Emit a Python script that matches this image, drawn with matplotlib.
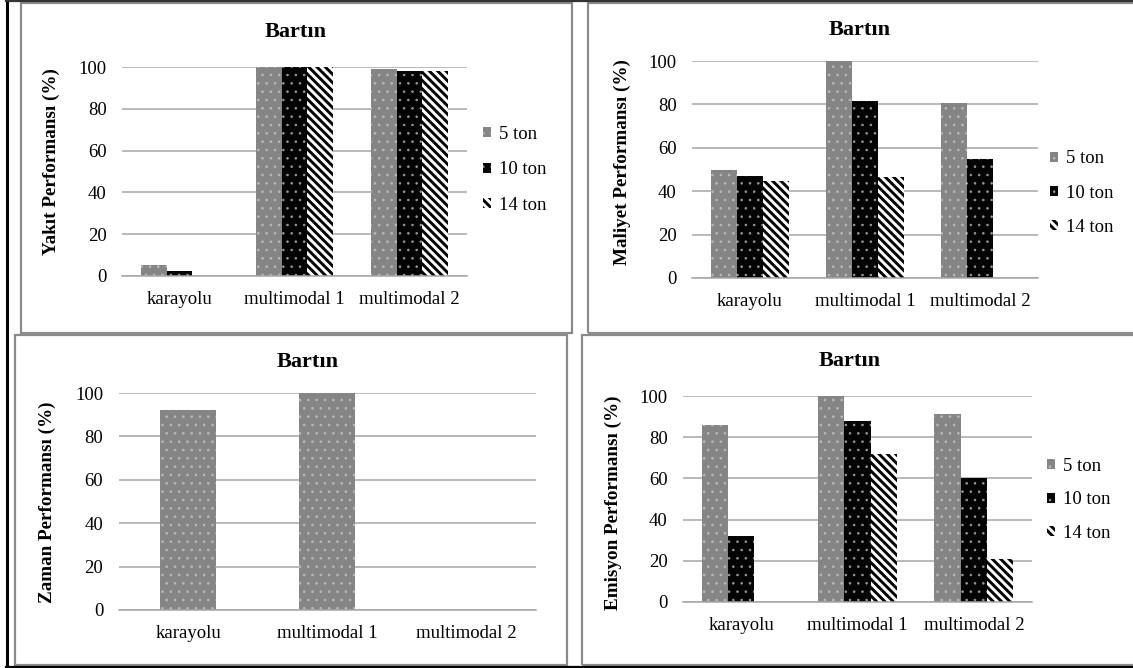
import matplotlib.pyplot as plt
from matplotlib.lines import Line2D
from matplotlib.patches import Rectangle

plt.rcParams['font.family'] = ['Liberation Serif', 'DejaVu Serif']

W, H = 1133, 668

categories = ['karayolu', 'multimodal 1', 'multimodal 2']
series = ['5 ton', '10 ton', '14 ton']

# değerler: her satır bir seri (5 ton, 10 ton, 14 ton)
yakit = [[5.3, 100, 98.9],
         [2.4, 100, 98.2],
         [0, 100, 98.2]]
maliyet = [[50.0, 100, 80.6],
           [47.1, 81.5, 54.8],
           [44.8, 46.5, 0]]
zaman = [[92.0, 100, 0]]
emisyon = [[85.9, 100, 91.4],
           [32.0, 87.7, 60.4],
           [0, 71.9, 21.0]]

# desenler (5 ton: gri noktalı, 10 ton: siyah noktalı, 14 ton: çapraz çizgili)
styles = [
    dict(facecolor='#858585', edgecolor='#b8b8b8', hatch='..', hlw=0.7),
    dict(facecolor='#030303', edgecolor='#9a9a9a', hatch='..', hlw=0.6),
    dict(facecolor='white', edgecolor='black', hatch=r'\\\\', hlw=2.1),
]

GRID = '#a6a6a6'
BORDER = '#8a8a8a'


def fx(px):
    return px / W


def fy(py):
    return 1 - py / H


def make_axes(fig, left, top, right, bottom):
    return fig.add_axes([fx(left), fy(bottom), fx(right - left), (bottom - top) / H])


def draw_bars(ax, values, width):
    n = len(values)
    for k, vals in enumerate(values):
        st = styles[k]
        off = (k - (n - 1) / 2) * width
        xs = [i + off for i in range(len(categories))]
        bars = ax.bar(xs, vals, width, facecolor=st['facecolor'],
                      edgecolor=st['edgecolor'], hatch=st['hatch'],
                      linewidth=0, label=series[k], zorder=2)
        for b in bars:
            b.set_hatch_linewidth(st['hlw'])


def style_axes(ax):
    ax.set_xlim(-0.5, 2.5)
    ax.set_ylim(0, 100)
    ax.set_yticks(range(0, 101, 20))
    ax.set_xticks(range(len(categories)))
    ax.set_xticklabels(categories)
    ax.set_axisbelow(True)
    ax.grid(axis='y', color=GRID, linewidth=1.1, zorder=0)
    for s in ['left', 'right', 'top']:
        ax.spines[s].set_visible(False)
    ax.spines['bottom'].set_color(GRID)
    ax.spines['bottom'].set_linewidth(1.1)
    ax.tick_params(axis='both', length=0, labelsize=13.5)
    ax.tick_params(axis='y', pad=11)
    ax.tick_params(axis='x', pad=11)


def add_legend(ax, x, y, spacing):
    leg = ax.legend(loc='center left', bbox_to_anchor=(fx(x), fy(y)),
                    bbox_transform=ax.figure.transFigure, frameon=False,
                    fontsize=13.5, handlelength=0.45, handleheight=0.45,
                    handletextpad=0.4, labelspacing=spacing, borderpad=0,
                    borderaxespad=0)
    for h, st in zip(leg.legend_handles, styles):
        h.set_hatch_linewidth(st['hlw'])


fig = plt.figure(figsize=(W / 100, H / 100), dpi=100)

# çerçeveler
frames = [(21, 3, 572, 333), (588, 3, 1140, 333),
          (15, 335, 567, 665), (582, 335, 1140, 665)]
for l, t, r, b in frames:
    fig.add_artist(Rectangle((fx(l), fy(b)), fx(r - l), (b - t) / H, fill=False,
                             edgecolor=BORDER, linewidth=1.6,
                             transform=fig.transFigure))
fig.add_artist(Line2D([fx(7), fx(7)], [0, 1], color='black', linewidth=2.2,
                      transform=fig.transFigure))
fig.add_artist(Line2D([fx(6), 1], [fy(1), fy(1)], color='#333333', linewidth=1.6,
                      transform=fig.transFigure))
fig.add_artist(Line2D([fx(6), 1], [fy(667), fy(667)], color='black', linewidth=1.6,
                      transform=fig.transFigure))

# 1 - Yakıt
ax1 = make_axes(fig, 122, 67, 467, 276)
draw_bars(ax1, yakit, 0.226)
style_axes(ax1)
add_legend(ax1, 483, 170, 0.98)
fig.text(fx(296), fy(32), 'Bartın', ha='center', va='center', fontsize=16, weight='bold')
fig.text(fx(51), fy(162), 'Yakıt Performansı (%)', rotation=90, ha='center',
         va='center', fontsize=13.8, weight='bold')

# 2 - Maliyet
ax2 = make_axes(fig, 692, 61, 1038, 278)
draw_bars(ax2, maliyet, 0.226)
style_axes(ax2)
add_legend(ax2, 1050, 193, 0.92)
fig.text(fx(860), fy(30), 'Bartın', ha='center', va='center', fontsize=16, weight='bold')
fig.text(fx(622), fy(162), 'Maliyet Performansı (%)', rotation=90, ha='center',
         va='center', fontsize=13.8, weight='bold')

# 3 - Zaman
ax3 = make_axes(fig, 118.5, 393, 536, 610)
draw_bars(ax3, zaman, 0.4)
style_axes(ax3)
fig.text(fx(308), fy(362), 'Bartın', ha='center', va='center', fontsize=16, weight='bold')
fig.text(fx(47), fy(502), 'Zaman Performansı (%)', rotation=90, ha='center',
         va='center', fontsize=13.8, weight='bold')

# 4 - Emisyon
ax4 = make_axes(fig, 683, 396, 1032, 602)
draw_bars(ax4, emisyon, 0.226)
style_axes(ax4)
add_legend(ax4, 1047, 500, 0.88)
fig.text(fx(850), fy(361), 'Bartın', ha='center', va='center', fontsize=16, weight='bold')
fig.text(fx(613), fy(503), 'Emisyon Performansı (%)', rotation=90, ha='center',
         va='center', fontsize=13.8, weight='bold')

fig.savefig('out.png', dpi=100)
